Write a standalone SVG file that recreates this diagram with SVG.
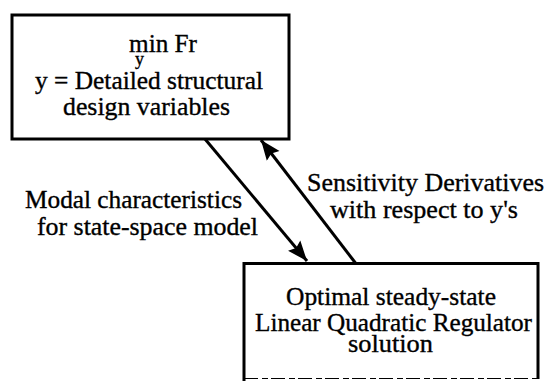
<svg xmlns="http://www.w3.org/2000/svg" width="544" height="381" viewBox="0 0 544 381">
<style>
text{font-family:"Liberation Serif","Times New Roman",serif;font-size:25px;fill:#000;stroke:#000;stroke-width:0.35}
.box{fill:#fff;stroke:#000;stroke-width:3}
.edge{fill:none;stroke:#000;stroke-width:3}
</style>
<defs>
<marker id="ah" markerUnits="userSpaceOnUse" markerWidth="22" markerHeight="20" refX="20" refY="10" orient="auto">
<path d="M0,2 L20,10 L0,18 L3,10 Z" fill="#000"/>
</marker>
</defs>
<rect width="544" height="381" fill="#fff"/>
<g id="connectors">
<line class="edge" x1="205" y1="139" x2="307" y2="261" marker-end="url(#ah)"/>
<line class="edge" x1="357" y1="265" x2="261" y2="140" marker-end="url(#ah)"/>
<text x="133.5" y="208" text-anchor="middle" textLength="217" lengthAdjust="spacingAndGlyphs">Modal characteristics</text>
<text x="147.5" y="235" text-anchor="middle" textLength="221" lengthAdjust="spacingAndGlyphs">for state-space model</text>
<text x="425.5" y="191" text-anchor="middle" textLength="237" lengthAdjust="spacingAndGlyphs">Sensitivity Derivatives</text>
<text x="424" y="218" text-anchor="middle" textLength="188" lengthAdjust="spacingAndGlyphs">with respect to y's</text>
</g>
<g id="node-top">
<rect class="box" x="12" y="15" width="277" height="124"/>
<text x="129" y="52" textLength="68" lengthAdjust="spacingAndGlyphs">min Fr</text>
<text x="135" y="65" style="font-size:18px">y</text>
<text x="149" y="89" text-anchor="middle" textLength="228" lengthAdjust="spacingAndGlyphs">y = Detailed structural</text>
<text x="146.5" y="115" text-anchor="middle" textLength="167" lengthAdjust="spacingAndGlyphs">design variables</text>
</g>
<g id="node-bottom">
<path d="M244,381 L244,263.5 L538,263.5 L538,379" fill="#fff" stroke="#000" stroke-width="3"/>
<line x1="244" y1="378.5" x2="538" y2="378.5" stroke="#000" stroke-width="1.2" stroke-dasharray="14,4,6,3"/>
<text x="391" y="305" text-anchor="middle" textLength="210" lengthAdjust="spacingAndGlyphs">Optimal steady-state</text>
<text x="393.5" y="331" text-anchor="middle" textLength="277" lengthAdjust="spacingAndGlyphs">Linear Quadratic Regulator</text>
<text x="390.5" y="352" text-anchor="middle" textLength="85" lengthAdjust="spacingAndGlyphs">solution</text>
</g>
</svg>
